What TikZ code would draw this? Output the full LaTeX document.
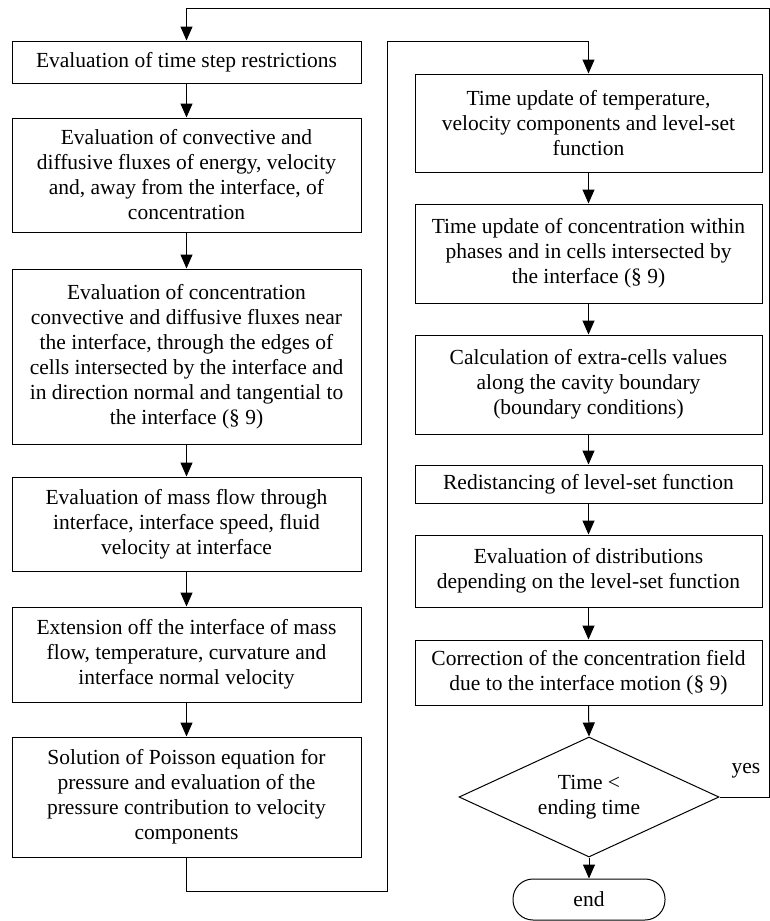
\documentclass[tikz,border=0pt]{standalone}
\usepackage{fontspec}
\setmainfont{Liberation Serif}
\usepackage{tikz}
\usetikzlibrary{arrows.meta, shapes.geometric}

\begin{document}
\begin{tikzpicture}[x=1pt, y=1pt,
    line width=1pt,
    lbox/.style={draw, minimum width=349pt, align=center, inner sep=0pt,
                 font=\fontsize{21.5}{25}\selectfont},
    rbox/.style={lbox, minimum width=347pt},
    decide/.style={draw, diamond, shape aspect=2.2, minimum width=260pt,
                   minimum height=120pt, inner sep=0pt, align=center,
                   font=\fontsize{21.5}{25}\selectfont},
    stop/.style={draw, rounded corners=20pt, minimum width=152pt,
                 minimum height=41pt, font=\fontsize{21.5}{25}\selectfont},
    arr/.style={-{Triangle[length=14pt, width=12pt]}}
  ]
    \useasboundingbox (0,0) rectangle (770,-921);

    % Left column
    \node[lbox, minimum height=42pt]  (L1) at (186.5,-62)    {Evaluation of time step restrictions};
    \node[lbox, minimum height=114pt] (L2) at (186.5,-175)   {Evaluation of convective and\\diffusive fluxes of energy, velocity\\and, away from the interface, of\\concentration};
    \node[lbox, minimum height=175pt] (L3) at (186.5,-356.5) {Evaluation of concentration\\convective and diffusive fluxes near\\the interface, through the edges of\\cells intersected by the interface and\\in direction normal and tangential to\\the interface (§ 9)};
    \node[lbox, minimum height=94pt]  (L4) at (186.5,-524)   {Evaluation of mass flow through\\interface, interface speed, fluid\\velocity at interface};
    \node[lbox, minimum height=95pt]  (L5) at (186.5,-654.5) {Extension off the interface of mass\\flow, temperature, curvature and\\interface normal velocity};
    \node[lbox, minimum height=120pt] (L6) at (186.5,-797)   {Solution of Poisson equation for\\pressure and evaluation of the\\pressure contribution to velocity\\components};

    % Right column
    \node[rbox, minimum height=98pt] (R1) at (588.5,-123)   {Time update of temperature,\\velocity components and level-set\\function};
    \node[rbox, minimum height=99pt] (R2) at (588.5,-253.5) {Time update of concentration within\\phases and in cells intersected by\\the interface (§ 9)};
    \node[rbox, minimum height=99pt] (R3) at (588.5,-384.5) {Calculation of extra-cells values\\along the cavity boundary\\(boundary conditions)};
    \node[rbox, minimum height=38pt] (R4) at (588.5,-484)   {Redistancing of level-set function};
    \node[rbox, minimum height=72pt] (R5) at (588.5,-571)   {Evaluation of distributions\\depending on the level-set function};
    \node[rbox, minimum height=65pt] (R6) at (588.5,-672.5) {Correction of the concentration field\\due to the interface motion (§ 9)};
    \node[decide] (dec) at (589,-797) {Time <\\ending time};
    \node[stop] (fin) at (589,-899.5) {end};

    % Arrows within columns
    \foreach \a/\b in {L1/L2, L2/L3, L3/L4, L4/L5, L5/L6,
                       R1/R2, R2/R3, R3/R4, R4/R5, R5/R6, R6/dec, dec/fin}
      \draw[arr] (\a.south) -- (\b.north);

    % Link between columns
    \coordinate (lowturn) at (387,-891);
    \coordinate (upturn) at (387,-41);
    \draw[arr] (L6.south) |- (lowturn) -- (upturn) -| (R1.north);

    % Loop back
    \coordinate (ret) at (769.5,-8);
    \draw[arr] (dec.east) -| (ret) -| (L1.north);
    \node[font=\fontsize{21.5}{25}\selectfont] (yes) at (746,-771) {yes};
  \end{tikzpicture}
\end{document}
